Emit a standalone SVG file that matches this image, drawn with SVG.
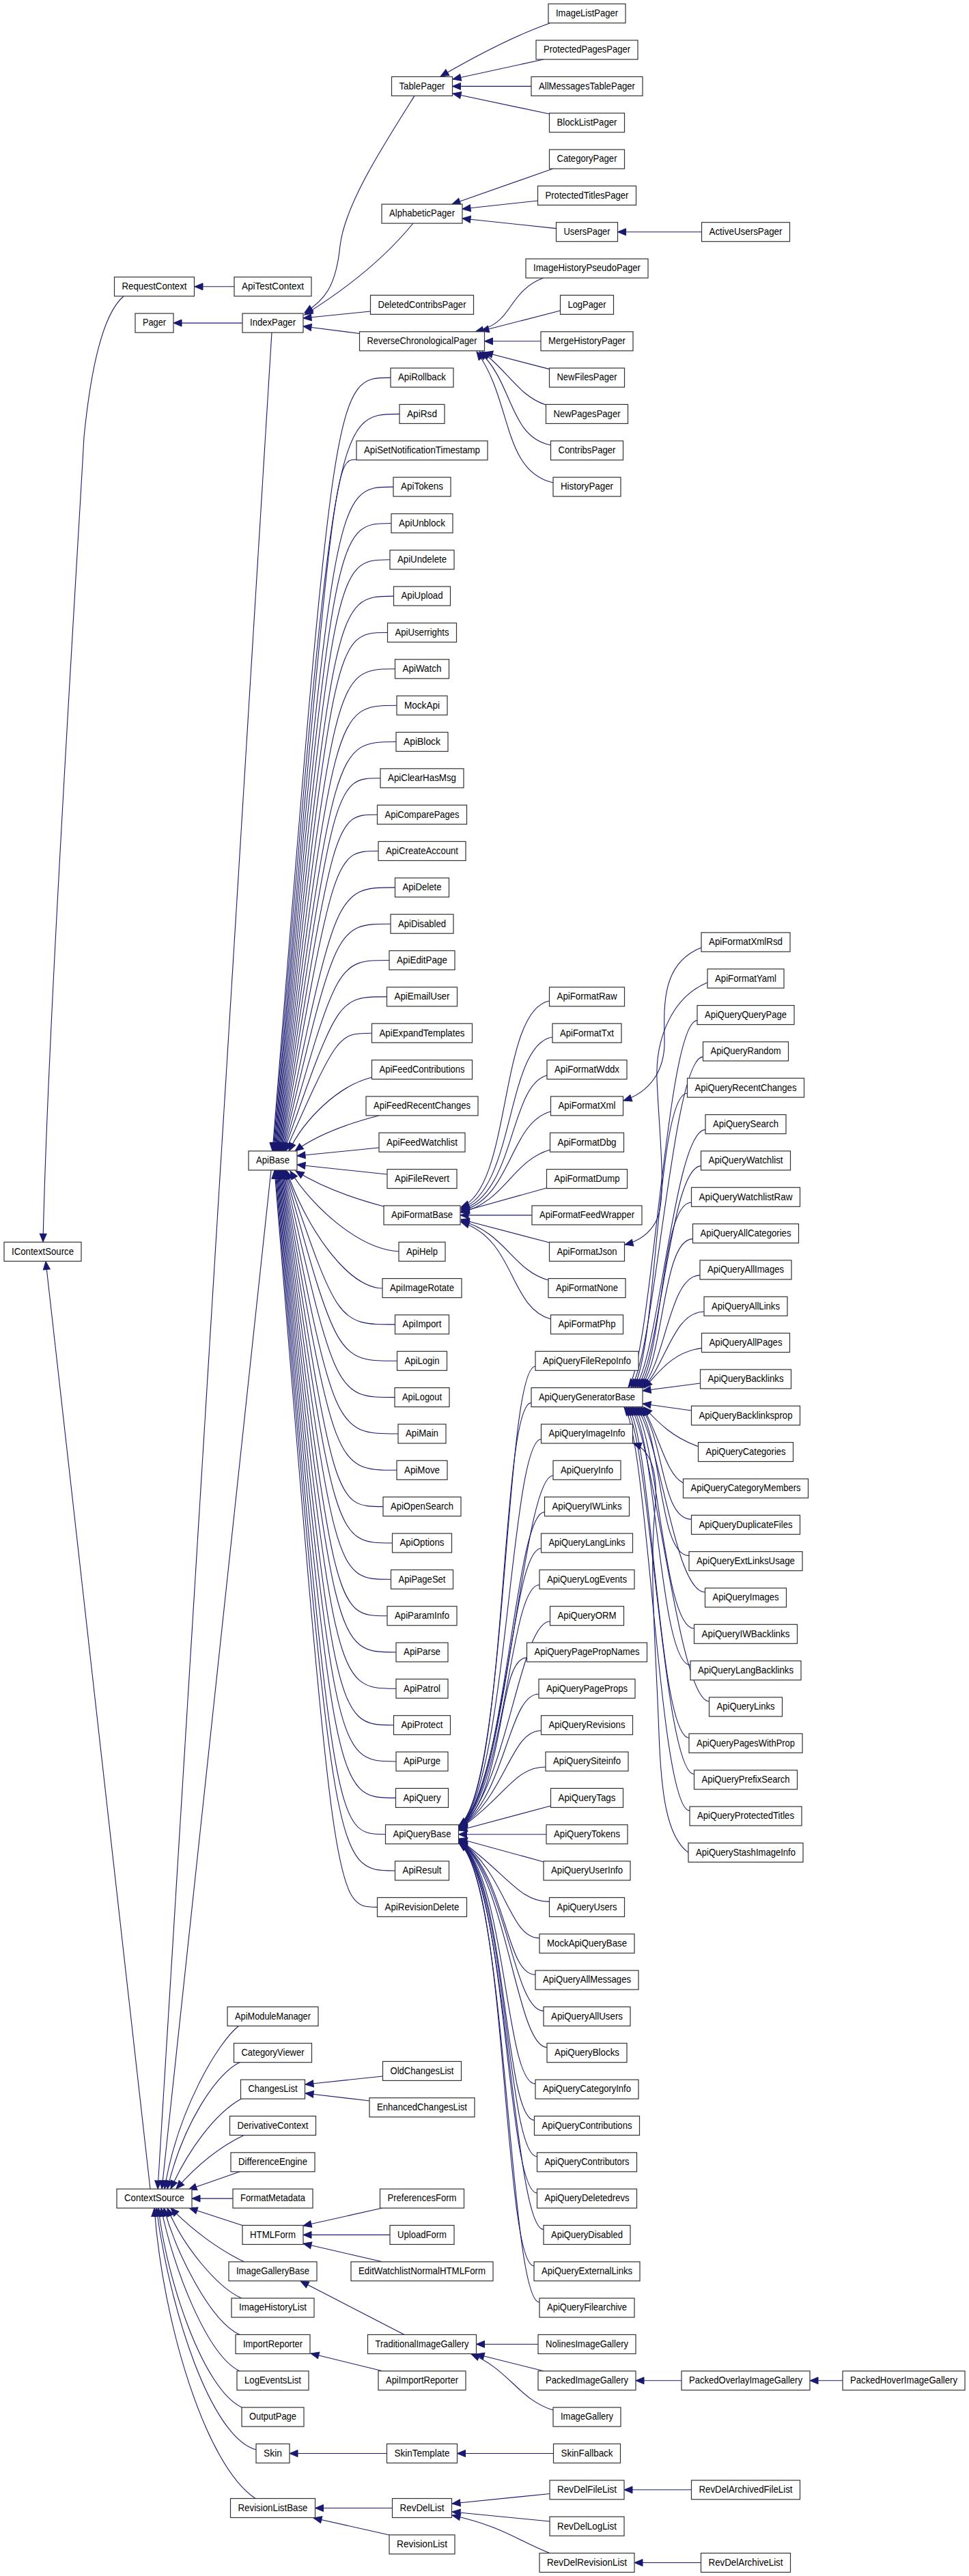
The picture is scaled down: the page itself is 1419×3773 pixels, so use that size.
<svg xmlns="http://www.w3.org/2000/svg" width="1419" height="3773" viewBox="0 0 1419 3773">
<style>
.n rect{fill:#fff;stroke:#333;stroke-width:1.2}
.n text{font-family:"Liberation Sans",Arial,Helvetica,sans-serif;font-size:14.5px;text-anchor:middle;fill:#000}
#edges path{fill:none;stroke:#191970;stroke-width:1.1;marker-end:url(#a)}
</style>
<defs>
<marker id="a" markerWidth="14" markerHeight="12" refX="12" refY="5" orient="auto" markerUnits="userSpaceOnUse" overflow="visible"><path d="M0,0 L12,5 L0,10 z" fill="#191970" stroke="#191970" stroke-width="1"/></marker>
</defs>
<rect width="1419" height="3773" fill="#fff"/>
<g id="edges">
<path d="M343,419.8 L285,419.8"/>
<path d="M355,473.1 L254,473.1"/>
<path d="M181,434 C150,460 133,540 123,640 C112,840 70,1500 63,1819"/>
<path d="M220,3206 L67,1847.5"/>
<path d="M398,487 L231,3206"/>
<path d="M397,1714 L237,3206"/>
<path d="M805,34 C760,50 700,80 645,112"/>
<path d="M796,87 L663,116"/>
<path d="M778,126.4 L662.5,126.4"/>
<path d="M805,167 L663,137"/>
<path d="M810,247 L662,299"/>
<path d="M787.5,294 L677,306"/>
<path d="M814.5,334.6 L677,320"/>
<path d="M1027.5,339.7 L904.5,339.7"/>
<path d="M607,140.4 C560,215 505,300 498,360 C492,420 475,440 446,458"/>
<path d="M605,327 C570,370 520,415 446,461"/>
<path d="M542.5,456 L444,466"/>
<path d="M526.5,488.5 L444,478"/>
<path d="M796,407.1 C760,420 750,450 735,465 C725,476 712,482 696,486"/>
<path d="M820.5,455 L704,485"/>
<path d="M792,499.8 L709.5,499.8"/>
<path d="M804.5,540.6 L709.5,516"/>
<path d="M799.5,593 C760,580 745,545 706,515"/>
<path d="M806.5,652 C745,640 752,560 702,515"/>
<path d="M810,707 C735,690 750,585 698,515"/>
<path d="M572,553.1 C490,553.1 490,553.1 399,1686"/>
<path d="M585,606.4 C490,606.4 490,606.4 400,1686"/>
<path d="M522,673 C490,673 490,673 401,1686"/>
<path d="M576,713.1 C490,713.1 490,713.1 402,1686"/>
<path d="M573,766.5 C490,766.5 490,766.5 403,1686"/>
<path d="M571,819.8 C490,819.8 490,819.8 404,1686"/>
<path d="M576.5,873.1 C490,873.1 490,873.1 405,1686"/>
<path d="M567.5,926.5 C490,926.5 490,926.5 406,1686"/>
<path d="M578.5,979.8 C490,979.8 490,979.8 407,1686"/>
<path d="M581,1033.2 C490,1033.2 490,1033.2 408,1686"/>
<path d="M580,1086.5 C490,1086.5 490,1086.5 409,1686"/>
<path d="M557,1139.8 C490,1139.8 490,1139.8 410,1686"/>
<path d="M552.5,1193.2 C490,1193.2 490,1193.2 411,1686"/>
<path d="M554,1246.5 C490,1246.5 490,1246.5 412,1686"/>
<path d="M578.5,1299.9 C492,1299.9 492,1299.9 413,1686"/>
<path d="M572,1353.2 C492,1353.2 492,1353.2 414,1686"/>
<path d="M570,1406.5 C494,1406.5 494,1406.5 415,1686"/>
<path d="M566.5,1459.9 C495,1459.9 495,1459.9 416,1686"/>
<path d="M544.5,1513.2 C495,1513.2 495,1513.2 418,1686"/>
<path d="M544.5,1578 C495,1590 445,1640 423,1686"/>
<path d="M555,1634 C500,1648 460,1665 432,1686"/>
<path d="M555,1681 L435,1693"/>
<path d="M567,1720 L435,1706"/>
<path d="M562,1767 C505,1752 465,1735 433,1715"/>
<path d="M584,1833 C525,1830 455,1765 425,1715"/>
<path d="M560,1887 C505,1885 445,1790 420,1715"/>
<path d="M578.5,1939.9 C495,1939.9 495,1939.9 418,1714"/>
<path d="M581.5,1993.3 C494,1993.3 494,1993.3 417,1714"/>
<path d="M578,2046.6 C492,2046.6 492,2046.6 416,1714"/>
<path d="M583,2100 C490,2100 490,2100 415,1714"/>
<path d="M581,2153.3 C490,2153.3 490,2153.3 414,1714"/>
<path d="M561,2206.6 C490,2206.6 490,2206.6 413,1714"/>
<path d="M574.5,2260 C490,2260 490,2260 412,1714"/>
<path d="M572.5,2313.3 C490,2313.3 490,2313.3 411,1714"/>
<path d="M567,2366.7 C490,2366.7 490,2366.7 410,1714"/>
<path d="M580,2420 C490,2420 490,2420 409,1714"/>
<path d="M580,2473.3 C490,2473.3 490,2473.3 408,1714"/>
<path d="M576.5,2526.7 C490,2526.7 490,2526.7 407,1714"/>
<path d="M580,2580 C490,2580 490,2580 406,1714"/>
<path d="M579.5,2633.4 C490,2633.4 490,2633.4 405,1714"/>
<path d="M564.5,2686.7 C490,2686.7 490,2686.7 404,1714"/>
<path d="M578.5,2740 C490,2740 490,2740 403,1714"/>
<path d="M552.5,2793.4 C490,2793.4 490,2793.4 402,1714"/>
<path d="M1027,1388 C970,1410 972,1470 973,1520 C975,1570 950,1600 913,1612"/>
<path d="M1036,1439 C985,1460 960,1520 962,1580 C965,1660 978,1760 960,1790 C950,1808 935,1818 915,1823"/>
<path d="M804.5,1466 C730,1480 750,1740 675,1768"/>
<path d="M809,1519 C740,1530 755,1745 675,1770"/>
<path d="M801,1575 C745,1590 755,1750 675,1772"/>
<path d="M806.5,1628 C745,1645 750,1755 675,1774"/>
<path d="M805.5,1684 C750,1700 740,1760 675,1776"/>
<path d="M800.5,1740 L675,1775"/>
<path d="M779,1779.9 L674,1779.9"/>
<path d="M804.5,1820 L675,1786"/>
<path d="M803,1875 C750,1860 740,1805 675,1788"/>
<path d="M806.5,1932 C745,1915 755,1815 675,1790"/>
<path d="M1021,1494.6 C976,1494.6 955,1987 920,2032"/>
<path d="M1029.5,1547.9 C984.5,1547.9 959,1987 924,2032"/>
<path d="M1006.5,1601.2 C961.5,1601.2 962,1987 927,2032"/>
<path d="M1033,1654.6 C988,1654.6 965,1987 930,2032"/>
<path d="M1026.5,1707.9 C981.5,1707.9 968,1987 933,2032"/>
<path d="M1012.5,1761.3 C967.5,1761.3 971,1987 936,2032"/>
<path d="M1014.5,1814.6 C969.5,1814.6 973,1990 938,2032"/>
<path d="M1025,1867.9 C980,1867.9 975,1995 940,2032"/>
<path d="M1031,1921.3 C986,1921.3 975,2000 942,2032"/>
<path d="M1027.5,1974.6 C985,1980 965,2010 943,2033"/>
<path d="M1025.5,2026 L941,2037"/>
<path d="M1012.5,2066 L941,2056"/>
<path d="M1022.5,2118.6 C985,2105 965,2085 943,2061"/>
<path d="M1000.5,2172 C975,2160 965,2100 941,2061"/>
<path d="M1012.5,2225.3 C967.5,2225.3 973,2106 938,2061"/>
<path d="M1009,2278.6 C964,2278.6 970,2106 935,2061"/>
<path d="M1032.5,2332 C987.5,2332 967,2106 932,2061"/>
<path d="M1016.5,2385.3 C971.5,2385.3 964,2106 929,2061"/>
<path d="M1011,2438.7 C966,2438.7 961,2106 926,2061"/>
<path d="M1038.5,2492 C993.5,2492 958,2106 923,2061"/>
<path d="M1009,2545.3 C964,2545.3 955,2106 920,2061"/>
<path d="M1016.5,2598.7 C971.5,2598.7 952,2106 917,2061"/>
<path d="M1010,2652 C965,2652 949,2106 914,2061"/>
<path d="M1008,2713.4 C975,2690 968,2620 965,2540 C960,2400 950,2300 960,2200 C963,2150 950,2122 927,2114"/>
<path d="M784,2001.3 C739,2001.3 742,2624 672,2674"/>
<path d="M778,2054.6 C733,2054.6 742,2624.5 672,2674.5"/>
<path d="M792.5,2108 C747.5,2108 742,2625 672,2675"/>
<path d="M810,2161.3 C765,2161.3 742,2625.5 672,2675.5"/>
<path d="M797.5,2214.6 C752.5,2214.6 742,2626 672,2676"/>
<path d="M792.5,2268 C747.5,2268 742,2626.5 672,2676.5"/>
<path d="M790,2321.3 C745,2321.3 742,2627 672,2677"/>
<path d="M805.5,2374.7 C760.5,2374.7 742,2627.5 672,2677.5"/>
<path d="M771.5,2428 C726.5,2428 742,2628 672,2678"/>
<path d="M789,2481.3 C744,2481.3 742,2628.5 672,2678.5"/>
<path d="M792.5,2534.7 C747.5,2534.7 742,2629 672,2679"/>
<path d="M799,2588 C754,2588 742,2629.5 672,2679.5"/>
<path d="M806.5,2645 L672,2681"/>
<path d="M800,2686.7 L671.5,2686.7"/>
<path d="M796,2727 L672,2693"/>
<path d="M804.5,2785.4 C759.5,2785.4 742,2744 672,2694"/>
<path d="M790,2838.7 C745,2838.7 742,2744.5 672,2694.5"/>
<path d="M784,2892.1 C739,2892.1 742,2745 672,2695"/>
<path d="M796,2945.4 C751,2945.4 742,2745.5 672,2695.5"/>
<path d="M801,2998.7 C756,2998.7 742,2746 672,2696"/>
<path d="M784,3052.1 C739,3052.1 742,2746.5 672,2696.5"/>
<path d="M782.5,3105.4 C737.5,3105.4 742,2747 672,2697"/>
<path d="M786.5,3158.8 C741.5,3158.8 742,2747.5 672,2697.5"/>
<path d="M786.5,3212.1 C741.5,3212.1 742,2748 672,2698"/>
<path d="M796,3265.4 C751,3265.4 742,2748.5 672,2698.5"/>
<path d="M782,3318.8 C737,3318.8 742,2749 672,2699"/>
<path d="M790,3372.1 C745,3372.1 742,2749.5 672,2699.5"/>
<path d="M350,2967 C320,2990 260,3090 241,3206"/>
<path d="M352.5,3020 C318,3035 268,3110 245,3206"/>
<path d="M353.5,3074 C315,3095 275,3150 250,3206"/>
<path d="M358,3127 C320,3145 285,3175 258,3206"/>
<path d="M353.5,3180 L276,3207"/>
<path d="M341,3220.1 L281,3220.1"/>
<path d="M355,3259.4 L277,3234"/>
<path d="M358,3313 C320,3295 280,3265 250,3234"/>
<path d="M353.5,3366 C318,3350 268,3290 245,3234"/>
<path d="M351,3419.5 C308,3400 258,3300 240,3234"/>
<path d="M351,3472.8 C303,3450 253,3320 236,3234"/>
<path d="M354,3526 C298,3500 244,3340 232,3234"/>
<path d="M375,3588 C308,3570 248,3380 229,3234"/>
<path d="M374,3659.5 C300,3610 238,3400 226,3234"/>
<path d="M560.5,3041 L447,3053"/>
<path d="M541,3077 L447,3066"/>
<path d="M560,3234 L444,3260"/>
<path d="M571,3273.4 L444,3273.4"/>
<path d="M560,3312.8 L444,3286"/>
<path d="M592,3419.5 L440,3341"/>
<path d="M788,3433.5 L697.5,3433.5"/>
<path d="M796,3472.8 L697,3448"/>
<path d="M810,3530 C760,3515 745,3470 690,3448"/>
<path d="M998,3486.8 L931,3486.8"/>
<path d="M1234,3486.8 L1186,3486.8"/>
<path d="M560,3472.8 L455,3447"/>
<path d="M566.5,3593.5 L424,3593.5"/>
<path d="M810.5,3593.5 L669.5,3593.5"/>
<path d="M574.5,3673.5 L461.5,3673.5"/>
<path d="M570.5,3713 L459,3688"/>
<path d="M805,3652.5 L662,3667"/>
<path d="M805,3693 L662,3679"/>
<path d="M805,3739.5 C760,3722 735,3700 662,3684"/>
<path d="M1012.5,3646.8 L914,3646.8"/>
<path d="M1026.5,3753.5 L929,3753.5"/>
</g>
<g id="nodes">
<g id="IContextSource" class="n"><rect x="6" y="1819.3" width="113" height="28"/><text x="62.5" y="1837.6" textLength="91" lengthAdjust="spacingAndGlyphs">IContextSource</text></g>
<g id="RequestContext" class="n"><rect x="167.5" y="405.8" width="117" height="28"/><text x="226" y="424.1" textLength="95" lengthAdjust="spacingAndGlyphs">RequestContext</text></g>
<g id="Pager" class="n"><rect x="198" y="459.1" width="56" height="28"/><text x="226" y="477.4" textLength="34" lengthAdjust="spacingAndGlyphs">Pager</text></g>
<g id="ContextSource" class="n"><rect x="171" y="3206.1" width="110" height="28"/><text x="226" y="3224.4" textLength="88" lengthAdjust="spacingAndGlyphs">ContextSource</text></g>
<g id="ApiTestContext" class="n"><rect x="343" y="405.8" width="113" height="28"/><text x="399.5" y="424.1" textLength="91" lengthAdjust="spacingAndGlyphs">ApiTestContext</text></g>
<g id="IndexPager" class="n"><rect x="355" y="459.1" width="89" height="28"/><text x="399.5" y="477.4" textLength="67" lengthAdjust="spacingAndGlyphs">IndexPager</text></g>
<g id="ApiBase" class="n"><rect x="364" y="1685.9" width="71" height="28"/><text x="399.5" y="1704.2" textLength="49" lengthAdjust="spacingAndGlyphs">ApiBase</text></g>
<g id="ApiModuleManager" class="n"><rect x="333" y="2939.4" width="133" height="28"/><text x="399.5" y="2957.7" textLength="111" lengthAdjust="spacingAndGlyphs">ApiModuleManager</text></g>
<g id="CategoryViewer" class="n"><rect x="342.5" y="2992.7" width="114" height="28"/><text x="399.5" y="3011" textLength="92" lengthAdjust="spacingAndGlyphs">CategoryViewer</text></g>
<g id="ChangesList" class="n"><rect x="352.5" y="3046.1" width="94" height="28"/><text x="399.5" y="3064.4" textLength="72" lengthAdjust="spacingAndGlyphs">ChangesList</text></g>
<g id="DerivativeContext" class="n"><rect x="336.5" y="3099.4" width="126" height="28"/><text x="399.5" y="3117.7" textLength="104" lengthAdjust="spacingAndGlyphs">DerivativeContext</text></g>
<g id="DifferenceEngine" class="n"><rect x="338" y="3152.8" width="123" height="28"/><text x="399.5" y="3171.1" textLength="101" lengthAdjust="spacingAndGlyphs">DifferenceEngine</text></g>
<g id="FormatMetadata" class="n"><rect x="341" y="3206.1" width="117" height="28"/><text x="399.5" y="3224.4" textLength="95" lengthAdjust="spacingAndGlyphs">FormatMetadata</text></g>
<g id="HTMLForm" class="n"><rect x="355" y="3259.4" width="89" height="28"/><text x="399.5" y="3277.7" textLength="67" lengthAdjust="spacingAndGlyphs">HTMLForm</text></g>
<g id="ImageGalleryBase" class="n"><rect x="335" y="3312.8" width="129" height="28"/><text x="399.5" y="3331.1" textLength="107" lengthAdjust="spacingAndGlyphs">ImageGalleryBase</text></g>
<g id="ImageHistoryList" class="n"><rect x="339" y="3366.1" width="121" height="28"/><text x="399.5" y="3384.4" textLength="99" lengthAdjust="spacingAndGlyphs">ImageHistoryList</text></g>
<g id="ImportReporter" class="n"><rect x="345" y="3419.5" width="109" height="28"/><text x="399.5" y="3437.8" textLength="87" lengthAdjust="spacingAndGlyphs">ImportReporter</text></g>
<g id="LogEventsList" class="n"><rect x="347" y="3472.8" width="105" height="28"/><text x="399.5" y="3491.1" textLength="83" lengthAdjust="spacingAndGlyphs">LogEventsList</text></g>
<g id="OutputPage" class="n"><rect x="354" y="3526.1" width="91" height="28"/><text x="399.5" y="3544.4" textLength="69" lengthAdjust="spacingAndGlyphs">OutputPage</text></g>
<g id="Skin" class="n"><rect x="375" y="3579.5" width="49" height="28"/><text x="399.5" y="3597.8" textLength="27" lengthAdjust="spacingAndGlyphs">Skin</text></g>
<g id="RevisionListBase" class="n"><rect x="337.5" y="3659.5" width="124" height="28"/><text x="399.5" y="3677.8" textLength="102" lengthAdjust="spacingAndGlyphs">RevisionListBase</text></g>
<g id="TablePager" class="n"><rect x="573.5" y="112.4" width="89" height="28"/><text x="618" y="130.7" textLength="67" lengthAdjust="spacingAndGlyphs">TablePager</text></g>
<g id="AlphabeticPager" class="n"><rect x="559" y="299.1" width="118" height="28"/><text x="618" y="317.4" textLength="96" lengthAdjust="spacingAndGlyphs">AlphabeticPager</text></g>
<g id="DeletedContribsPager" class="n"><rect x="542.5" y="432.4" width="151" height="28"/><text x="618" y="450.7" textLength="129" lengthAdjust="spacingAndGlyphs">DeletedContribsPager</text></g>
<g id="ReverseChronologicalPager" class="n"><rect x="526.5" y="485.8" width="183" height="28"/><text x="618" y="504.1" textLength="161" lengthAdjust="spacingAndGlyphs">ReverseChronologicalPager</text></g>
<g id="ApiRollback" class="n"><rect x="572" y="539.1" width="92" height="28"/><text x="618" y="557.4" textLength="70" lengthAdjust="spacingAndGlyphs">ApiRollback</text></g>
<g id="ApiRsd" class="n"><rect x="585" y="592.4" width="66" height="28"/><text x="618" y="610.7" textLength="44" lengthAdjust="spacingAndGlyphs">ApiRsd</text></g>
<g id="ApiSetNotificationTimestamp" class="n"><rect x="522" y="645.8" width="192" height="28"/><text x="618" y="664.1" textLength="170" lengthAdjust="spacingAndGlyphs">ApiSetNotificationTimestamp</text></g>
<g id="ApiTokens" class="n"><rect x="576" y="699.1" width="84" height="28"/><text x="618" y="717.4" textLength="62" lengthAdjust="spacingAndGlyphs">ApiTokens</text></g>
<g id="ApiUnblock" class="n"><rect x="573" y="752.5" width="90" height="28"/><text x="618" y="770.8" textLength="68" lengthAdjust="spacingAndGlyphs">ApiUnblock</text></g>
<g id="ApiUndelete" class="n"><rect x="571" y="805.8" width="94" height="28"/><text x="618" y="824.1" textLength="72" lengthAdjust="spacingAndGlyphs">ApiUndelete</text></g>
<g id="ApiUpload" class="n"><rect x="576.5" y="859.1" width="83" height="28"/><text x="618" y="877.4" textLength="61" lengthAdjust="spacingAndGlyphs">ApiUpload</text></g>
<g id="ApiUserrights" class="n"><rect x="567.5" y="912.5" width="101" height="28"/><text x="618" y="930.8" textLength="79" lengthAdjust="spacingAndGlyphs">ApiUserrights</text></g>
<g id="ApiWatch" class="n"><rect x="578.5" y="965.8" width="79" height="28"/><text x="618" y="984.1" textLength="57" lengthAdjust="spacingAndGlyphs">ApiWatch</text></g>
<g id="MockApi" class="n"><rect x="581" y="1019.2" width="74" height="28"/><text x="618" y="1037.5" textLength="52" lengthAdjust="spacingAndGlyphs">MockApi</text></g>
<g id="ApiBlock" class="n"><rect x="580" y="1072.5" width="76" height="28"/><text x="618" y="1090.8" textLength="54" lengthAdjust="spacingAndGlyphs">ApiBlock</text></g>
<g id="ApiClearHasMsg" class="n"><rect x="557" y="1125.8" width="122" height="28"/><text x="618" y="1144.1" textLength="100" lengthAdjust="spacingAndGlyphs">ApiClearHasMsg</text></g>
<g id="ApiComparePages" class="n"><rect x="552.5" y="1179.2" width="131" height="28"/><text x="618" y="1197.5" textLength="109" lengthAdjust="spacingAndGlyphs">ApiComparePages</text></g>
<g id="ApiCreateAccount" class="n"><rect x="554" y="1232.5" width="128" height="28"/><text x="618" y="1250.8" textLength="106" lengthAdjust="spacingAndGlyphs">ApiCreateAccount</text></g>
<g id="ApiDelete" class="n"><rect x="578.5" y="1285.9" width="79" height="28"/><text x="618" y="1304.2" textLength="57" lengthAdjust="spacingAndGlyphs">ApiDelete</text></g>
<g id="ApiDisabled" class="n"><rect x="572" y="1339.2" width="92" height="28"/><text x="618" y="1357.5" textLength="70" lengthAdjust="spacingAndGlyphs">ApiDisabled</text></g>
<g id="ApiEditPage" class="n"><rect x="570" y="1392.5" width="96" height="28"/><text x="618" y="1410.8" textLength="74" lengthAdjust="spacingAndGlyphs">ApiEditPage</text></g>
<g id="ApiEmailUser" class="n"><rect x="566.5" y="1445.9" width="103" height="28"/><text x="618" y="1464.2" textLength="81" lengthAdjust="spacingAndGlyphs">ApiEmailUser</text></g>
<g id="ApiExpandTemplates" class="n"><rect x="544.5" y="1499.2" width="147" height="28"/><text x="618" y="1517.5" textLength="125" lengthAdjust="spacingAndGlyphs">ApiExpandTemplates</text></g>
<g id="ApiFeedContributions" class="n"><rect x="544.5" y="1552.6" width="147" height="28"/><text x="618" y="1570.9" textLength="125" lengthAdjust="spacingAndGlyphs">ApiFeedContributions</text></g>
<g id="ApiFeedRecentChanges" class="n"><rect x="536" y="1605.9" width="164" height="28"/><text x="618" y="1624.2" textLength="142" lengthAdjust="spacingAndGlyphs">ApiFeedRecentChanges</text></g>
<g id="ApiFeedWatchlist" class="n"><rect x="555" y="1659.2" width="126" height="28"/><text x="618" y="1677.5" textLength="104" lengthAdjust="spacingAndGlyphs">ApiFeedWatchlist</text></g>
<g id="ApiFileRevert" class="n"><rect x="567" y="1712.6" width="102" height="28"/><text x="618" y="1730.9" textLength="80" lengthAdjust="spacingAndGlyphs">ApiFileRevert</text></g>
<g id="ApiFormatBase" class="n"><rect x="562" y="1765.9" width="112" height="28"/><text x="618" y="1784.2" textLength="90" lengthAdjust="spacingAndGlyphs">ApiFormatBase</text></g>
<g id="ApiHelp" class="n"><rect x="584" y="1819.3" width="68" height="28"/><text x="618" y="1837.6" textLength="46" lengthAdjust="spacingAndGlyphs">ApiHelp</text></g>
<g id="ApiImageRotate" class="n"><rect x="560" y="1872.6" width="116" height="28"/><text x="618" y="1890.9" textLength="94" lengthAdjust="spacingAndGlyphs">ApiImageRotate</text></g>
<g id="ApiImport" class="n"><rect x="578.5" y="1925.9" width="79" height="28"/><text x="618" y="1944.2" textLength="57" lengthAdjust="spacingAndGlyphs">ApiImport</text></g>
<g id="ApiLogin" class="n"><rect x="581.5" y="1979.3" width="73" height="28"/><text x="618" y="1997.6" textLength="51" lengthAdjust="spacingAndGlyphs">ApiLogin</text></g>
<g id="ApiLogout" class="n"><rect x="578" y="2032.6" width="80" height="28"/><text x="618" y="2050.9" textLength="58" lengthAdjust="spacingAndGlyphs">ApiLogout</text></g>
<g id="ApiMain" class="n"><rect x="583" y="2086" width="70" height="28"/><text x="618" y="2104.3" textLength="48" lengthAdjust="spacingAndGlyphs">ApiMain</text></g>
<g id="ApiMove" class="n"><rect x="581" y="2139.3" width="74" height="28"/><text x="618" y="2157.6" textLength="52" lengthAdjust="spacingAndGlyphs">ApiMove</text></g>
<g id="ApiOpenSearch" class="n"><rect x="561" y="2192.6" width="114" height="28"/><text x="618" y="2210.9" textLength="92" lengthAdjust="spacingAndGlyphs">ApiOpenSearch</text></g>
<g id="ApiOptions" class="n"><rect x="574.5" y="2246" width="87" height="28"/><text x="618" y="2264.3" textLength="65" lengthAdjust="spacingAndGlyphs">ApiOptions</text></g>
<g id="ApiPageSet" class="n"><rect x="572.5" y="2299.3" width="91" height="28"/><text x="618" y="2317.6" textLength="69" lengthAdjust="spacingAndGlyphs">ApiPageSet</text></g>
<g id="ApiParamInfo" class="n"><rect x="567" y="2352.7" width="102" height="28"/><text x="618" y="2371" textLength="80" lengthAdjust="spacingAndGlyphs">ApiParamInfo</text></g>
<g id="ApiParse" class="n"><rect x="580" y="2406" width="76" height="28"/><text x="618" y="2424.3" textLength="54" lengthAdjust="spacingAndGlyphs">ApiParse</text></g>
<g id="ApiPatrol" class="n"><rect x="580" y="2459.3" width="76" height="28"/><text x="618" y="2477.6" textLength="54" lengthAdjust="spacingAndGlyphs">ApiPatrol</text></g>
<g id="ApiProtect" class="n"><rect x="576.5" y="2512.7" width="83" height="28"/><text x="618" y="2531" textLength="61" lengthAdjust="spacingAndGlyphs">ApiProtect</text></g>
<g id="ApiPurge" class="n"><rect x="580" y="2566" width="76" height="28"/><text x="618" y="2584.3" textLength="54" lengthAdjust="spacingAndGlyphs">ApiPurge</text></g>
<g id="ApiQuery" class="n"><rect x="579.5" y="2619.4" width="77" height="28"/><text x="618" y="2637.7" textLength="55" lengthAdjust="spacingAndGlyphs">ApiQuery</text></g>
<g id="ApiQueryBase" class="n"><rect x="564.5" y="2672.7" width="107" height="28"/><text x="618" y="2691" textLength="85" lengthAdjust="spacingAndGlyphs">ApiQueryBase</text></g>
<g id="ApiResult" class="n"><rect x="578.5" y="2726" width="79" height="28"/><text x="618" y="2744.3" textLength="57" lengthAdjust="spacingAndGlyphs">ApiResult</text></g>
<g id="ApiRevisionDelete" class="n"><rect x="552.5" y="2779.4" width="131" height="28"/><text x="618" y="2797.7" textLength="109" lengthAdjust="spacingAndGlyphs">ApiRevisionDelete</text></g>
<g id="OldChangesList" class="n"><rect x="560.5" y="3019.4" width="115" height="28"/><text x="618" y="3037.7" textLength="93" lengthAdjust="spacingAndGlyphs">OldChangesList</text></g>
<g id="EnhancedChangesList" class="n"><rect x="541" y="3072.7" width="154" height="28"/><text x="618" y="3091" textLength="132" lengthAdjust="spacingAndGlyphs">EnhancedChangesList</text></g>
<g id="PreferencesForm" class="n"><rect x="556.5" y="3206.1" width="123" height="28"/><text x="618" y="3224.4" textLength="101" lengthAdjust="spacingAndGlyphs">PreferencesForm</text></g>
<g id="UploadForm" class="n"><rect x="571" y="3259.4" width="94" height="28"/><text x="618" y="3277.7" textLength="72" lengthAdjust="spacingAndGlyphs">UploadForm</text></g>
<g id="EditWatchlistNormalHTMLForm" class="n"><rect x="514" y="3312.8" width="208" height="28"/><text x="618" y="3331.1" textLength="186" lengthAdjust="spacingAndGlyphs">EditWatchlistNormalHTMLForm</text></g>
<g id="TraditionalImageGallery" class="n"><rect x="538.5" y="3419.5" width="159" height="28"/><text x="618" y="3437.8" textLength="137" lengthAdjust="spacingAndGlyphs">TraditionalImageGallery</text></g>
<g id="ApiImportReporter" class="n"><rect x="554" y="3472.8" width="128" height="28"/><text x="618" y="3491.1" textLength="106" lengthAdjust="spacingAndGlyphs">ApiImportReporter</text></g>
<g id="SkinTemplate" class="n"><rect x="566.5" y="3579.5" width="103" height="28"/><text x="618" y="3597.8" textLength="81" lengthAdjust="spacingAndGlyphs">SkinTemplate</text></g>
<g id="RevDelList" class="n"><rect x="574.5" y="3659.5" width="87" height="28"/><text x="618" y="3677.8" textLength="65" lengthAdjust="spacingAndGlyphs">RevDelList</text></g>
<g id="RevisionList" class="n"><rect x="570" y="3712.8" width="96" height="28"/><text x="618" y="3731.1" textLength="74" lengthAdjust="spacingAndGlyphs">RevisionList</text></g>
<g id="ImageListPager" class="n"><rect x="803" y="5.7" width="113" height="28"/><text x="859.5" y="24" textLength="91" lengthAdjust="spacingAndGlyphs">ImageListPager</text></g>
<g id="ProtectedPagesPager" class="n"><rect x="785" y="59" width="149" height="28"/><text x="859.5" y="77.3" textLength="127" lengthAdjust="spacingAndGlyphs">ProtectedPagesPager</text></g>
<g id="AllMessagesTablePager" class="n"><rect x="778" y="112.4" width="163" height="28"/><text x="859.5" y="130.7" textLength="141" lengthAdjust="spacingAndGlyphs">AllMessagesTablePager</text></g>
<g id="BlockListPager" class="n"><rect x="804.5" y="165.7" width="110" height="28"/><text x="859.5" y="184" textLength="88" lengthAdjust="spacingAndGlyphs">BlockListPager</text></g>
<g id="CategoryPager" class="n"><rect x="804.5" y="219.1" width="110" height="28"/><text x="859.5" y="237.4" textLength="88" lengthAdjust="spacingAndGlyphs">CategoryPager</text></g>
<g id="ProtectedTitlesPager" class="n"><rect x="787.5" y="272.4" width="144" height="28"/><text x="859.5" y="290.7" textLength="122" lengthAdjust="spacingAndGlyphs">ProtectedTitlesPager</text></g>
<g id="UsersPager" class="n"><rect x="814.5" y="325.7" width="90" height="28"/><text x="859.5" y="344" textLength="68" lengthAdjust="spacingAndGlyphs">UsersPager</text></g>
<g id="ImageHistoryPseudoPager" class="n"><rect x="770" y="379.1" width="179" height="28"/><text x="859.5" y="397.4" textLength="157" lengthAdjust="spacingAndGlyphs">ImageHistoryPseudoPager</text></g>
<g id="LogPager" class="n"><rect x="820.5" y="432.4" width="78" height="28"/><text x="859.5" y="450.7" textLength="56" lengthAdjust="spacingAndGlyphs">LogPager</text></g>
<g id="MergeHistoryPager" class="n"><rect x="792" y="485.8" width="135" height="28"/><text x="859.5" y="504.1" textLength="113" lengthAdjust="spacingAndGlyphs">MergeHistoryPager</text></g>
<g id="NewFilesPager" class="n"><rect x="804.5" y="539.1" width="110" height="28"/><text x="859.5" y="557.4" textLength="88" lengthAdjust="spacingAndGlyphs">NewFilesPager</text></g>
<g id="NewPagesPager" class="n"><rect x="799.5" y="592.4" width="120" height="28"/><text x="859.5" y="610.7" textLength="98" lengthAdjust="spacingAndGlyphs">NewPagesPager</text></g>
<g id="ContribsPager" class="n"><rect x="806.5" y="645.8" width="106" height="28"/><text x="859.5" y="664.1" textLength="84" lengthAdjust="spacingAndGlyphs">ContribsPager</text></g>
<g id="HistoryPager" class="n"><rect x="810" y="699.1" width="99" height="28"/><text x="859.5" y="717.4" textLength="77" lengthAdjust="spacingAndGlyphs">HistoryPager</text></g>
<g id="ApiFormatRaw" class="n"><rect x="804.5" y="1445.9" width="110" height="28"/><text x="859.5" y="1464.2" textLength="88" lengthAdjust="spacingAndGlyphs">ApiFormatRaw</text></g>
<g id="ApiFormatTxt" class="n"><rect x="809" y="1499.2" width="101" height="28"/><text x="859.5" y="1517.5" textLength="79" lengthAdjust="spacingAndGlyphs">ApiFormatTxt</text></g>
<g id="ApiFormatWddx" class="n"><rect x="801" y="1552.6" width="117" height="28"/><text x="859.5" y="1570.9" textLength="95" lengthAdjust="spacingAndGlyphs">ApiFormatWddx</text></g>
<g id="ApiFormatXml" class="n"><rect x="806.5" y="1605.9" width="106" height="28"/><text x="859.5" y="1624.2" textLength="84" lengthAdjust="spacingAndGlyphs">ApiFormatXml</text></g>
<g id="ApiFormatDbg" class="n"><rect x="805.5" y="1659.2" width="108" height="28"/><text x="859.5" y="1677.5" textLength="86" lengthAdjust="spacingAndGlyphs">ApiFormatDbg</text></g>
<g id="ApiFormatDump" class="n"><rect x="800.5" y="1712.6" width="118" height="28"/><text x="859.5" y="1730.9" textLength="96" lengthAdjust="spacingAndGlyphs">ApiFormatDump</text></g>
<g id="ApiFormatFeedWrapper" class="n"><rect x="779" y="1765.9" width="161" height="28"/><text x="859.5" y="1784.2" textLength="139" lengthAdjust="spacingAndGlyphs">ApiFormatFeedWrapper</text></g>
<g id="ApiFormatJson" class="n"><rect x="804.5" y="1819.3" width="110" height="28"/><text x="859.5" y="1837.6" textLength="88" lengthAdjust="spacingAndGlyphs">ApiFormatJson</text></g>
<g id="ApiFormatNone" class="n"><rect x="803" y="1872.6" width="113" height="28"/><text x="859.5" y="1890.9" textLength="91" lengthAdjust="spacingAndGlyphs">ApiFormatNone</text></g>
<g id="ApiFormatPhp" class="n"><rect x="806.5" y="1925.9" width="106" height="28"/><text x="859.5" y="1944.2" textLength="84" lengthAdjust="spacingAndGlyphs">ApiFormatPhp</text></g>
<g id="ApiQueryFileRepoInfo" class="n"><rect x="784" y="1979.3" width="151" height="28"/><text x="859.5" y="1997.6" textLength="129" lengthAdjust="spacingAndGlyphs">ApiQueryFileRepoInfo</text></g>
<g id="ApiQueryGeneratorBase" class="n"><rect x="778" y="2032.6" width="163" height="28"/><text x="859.5" y="2050.9" textLength="141" lengthAdjust="spacingAndGlyphs">ApiQueryGeneratorBase</text></g>
<g id="ApiQueryImageInfo" class="n"><rect x="792.5" y="2086" width="134" height="28"/><text x="859.5" y="2104.3" textLength="112" lengthAdjust="spacingAndGlyphs">ApiQueryImageInfo</text></g>
<g id="ApiQueryInfo" class="n"><rect x="810" y="2139.3" width="99" height="28"/><text x="859.5" y="2157.6" textLength="77" lengthAdjust="spacingAndGlyphs">ApiQueryInfo</text></g>
<g id="ApiQueryIWLinks" class="n"><rect x="797.5" y="2192.6" width="124" height="28"/><text x="859.5" y="2210.9" textLength="102" lengthAdjust="spacingAndGlyphs">ApiQueryIWLinks</text></g>
<g id="ApiQueryLangLinks" class="n"><rect x="792.5" y="2246" width="134" height="28"/><text x="859.5" y="2264.3" textLength="112" lengthAdjust="spacingAndGlyphs">ApiQueryLangLinks</text></g>
<g id="ApiQueryLogEvents" class="n"><rect x="790" y="2299.3" width="139" height="28"/><text x="859.5" y="2317.6" textLength="117" lengthAdjust="spacingAndGlyphs">ApiQueryLogEvents</text></g>
<g id="ApiQueryORM" class="n"><rect x="805.5" y="2352.7" width="108" height="28"/><text x="859.5" y="2371" textLength="86" lengthAdjust="spacingAndGlyphs">ApiQueryORM</text></g>
<g id="ApiQueryPagePropNames" class="n"><rect x="771.5" y="2406" width="176" height="28"/><text x="859.5" y="2424.3" textLength="154" lengthAdjust="spacingAndGlyphs">ApiQueryPagePropNames</text></g>
<g id="ApiQueryPageProps" class="n"><rect x="789" y="2459.3" width="141" height="28"/><text x="859.5" y="2477.6" textLength="119" lengthAdjust="spacingAndGlyphs">ApiQueryPageProps</text></g>
<g id="ApiQueryRevisions" class="n"><rect x="792.5" y="2512.7" width="134" height="28"/><text x="859.5" y="2531" textLength="112" lengthAdjust="spacingAndGlyphs">ApiQueryRevisions</text></g>
<g id="ApiQuerySiteinfo" class="n"><rect x="799" y="2566" width="121" height="28"/><text x="859.5" y="2584.3" textLength="99" lengthAdjust="spacingAndGlyphs">ApiQuerySiteinfo</text></g>
<g id="ApiQueryTags" class="n"><rect x="806.5" y="2619.4" width="106" height="28"/><text x="859.5" y="2637.7" textLength="84" lengthAdjust="spacingAndGlyphs">ApiQueryTags</text></g>
<g id="ApiQueryTokens" class="n"><rect x="800" y="2672.7" width="119" height="28"/><text x="859.5" y="2691" textLength="97" lengthAdjust="spacingAndGlyphs">ApiQueryTokens</text></g>
<g id="ApiQueryUserInfo" class="n"><rect x="796" y="2726" width="127" height="28"/><text x="859.5" y="2744.3" textLength="105" lengthAdjust="spacingAndGlyphs">ApiQueryUserInfo</text></g>
<g id="ApiQueryUsers" class="n"><rect x="804.5" y="2779.4" width="110" height="28"/><text x="859.5" y="2797.7" textLength="88" lengthAdjust="spacingAndGlyphs">ApiQueryUsers</text></g>
<g id="MockApiQueryBase" class="n"><rect x="790" y="2832.7" width="139" height="28"/><text x="859.5" y="2851" textLength="117" lengthAdjust="spacingAndGlyphs">MockApiQueryBase</text></g>
<g id="ApiQueryAllMessages" class="n"><rect x="784" y="2886.1" width="151" height="28"/><text x="859.5" y="2904.4" textLength="129" lengthAdjust="spacingAndGlyphs">ApiQueryAllMessages</text></g>
<g id="ApiQueryAllUsers" class="n"><rect x="796" y="2939.4" width="127" height="28"/><text x="859.5" y="2957.7" textLength="105" lengthAdjust="spacingAndGlyphs">ApiQueryAllUsers</text></g>
<g id="ApiQueryBlocks" class="n"><rect x="801" y="2992.7" width="117" height="28"/><text x="859.5" y="3011" textLength="95" lengthAdjust="spacingAndGlyphs">ApiQueryBlocks</text></g>
<g id="ApiQueryCategoryInfo" class="n"><rect x="784" y="3046.1" width="151" height="28"/><text x="859.5" y="3064.4" textLength="129" lengthAdjust="spacingAndGlyphs">ApiQueryCategoryInfo</text></g>
<g id="ApiQueryContributions" class="n"><rect x="782.5" y="3099.4" width="154" height="28"/><text x="859.5" y="3117.7" textLength="132" lengthAdjust="spacingAndGlyphs">ApiQueryContributions</text></g>
<g id="ApiQueryContributors" class="n"><rect x="786.5" y="3152.8" width="146" height="28"/><text x="859.5" y="3171.1" textLength="124" lengthAdjust="spacingAndGlyphs">ApiQueryContributors</text></g>
<g id="ApiQueryDeletedrevs" class="n"><rect x="786.5" y="3206.1" width="146" height="28"/><text x="859.5" y="3224.4" textLength="124" lengthAdjust="spacingAndGlyphs">ApiQueryDeletedrevs</text></g>
<g id="ApiQueryDisabled" class="n"><rect x="796" y="3259.4" width="127" height="28"/><text x="859.5" y="3277.7" textLength="105" lengthAdjust="spacingAndGlyphs">ApiQueryDisabled</text></g>
<g id="ApiQueryExternalLinks" class="n"><rect x="782" y="3312.8" width="155" height="28"/><text x="859.5" y="3331.1" textLength="133" lengthAdjust="spacingAndGlyphs">ApiQueryExternalLinks</text></g>
<g id="ApiQueryFilearchive" class="n"><rect x="790" y="3366.1" width="139" height="28"/><text x="859.5" y="3384.4" textLength="117" lengthAdjust="spacingAndGlyphs">ApiQueryFilearchive</text></g>
<g id="NolinesImageGallery" class="n"><rect x="788" y="3419.5" width="143" height="28"/><text x="859.5" y="3437.8" textLength="121" lengthAdjust="spacingAndGlyphs">NolinesImageGallery</text></g>
<g id="PackedImageGallery" class="n"><rect x="788" y="3472.8" width="143" height="28"/><text x="859.5" y="3491.1" textLength="121" lengthAdjust="spacingAndGlyphs">PackedImageGallery</text></g>
<g id="ImageGallery" class="n"><rect x="810" y="3526.1" width="99" height="28"/><text x="859.5" y="3544.4" textLength="77" lengthAdjust="spacingAndGlyphs">ImageGallery</text></g>
<g id="SkinFallback" class="n"><rect x="810.5" y="3579.5" width="98" height="28"/><text x="859.5" y="3597.8" textLength="76" lengthAdjust="spacingAndGlyphs">SkinFallback</text></g>
<g id="RevDelFileList" class="n"><rect x="805" y="3632.8" width="109" height="28"/><text x="859.5" y="3651.1" textLength="87" lengthAdjust="spacingAndGlyphs">RevDelFileList</text></g>
<g id="RevDelLogList" class="n"><rect x="805" y="3686.2" width="109" height="28"/><text x="859.5" y="3704.5" textLength="87" lengthAdjust="spacingAndGlyphs">RevDelLogList</text></g>
<g id="RevDelRevisionList" class="n"><rect x="790" y="3739.5" width="139" height="28"/><text x="859.5" y="3757.8" textLength="117" lengthAdjust="spacingAndGlyphs">RevDelRevisionList</text></g>
<g id="ActiveUsersPager" class="n"><rect x="1027.5" y="325.7" width="129" height="28"/><text x="1092" y="344" textLength="107" lengthAdjust="spacingAndGlyphs">ActiveUsersPager</text></g>
<g id="ApiFormatXmlRsd" class="n"><rect x="1027" y="1365.9" width="130" height="28"/><text x="1092" y="1384.2" textLength="108" lengthAdjust="spacingAndGlyphs">ApiFormatXmlRsd</text></g>
<g id="ApiFormatYaml" class="n"><rect x="1036" y="1419.2" width="112" height="28"/><text x="1092" y="1437.5" textLength="90" lengthAdjust="spacingAndGlyphs">ApiFormatYaml</text></g>
<g id="ApiQueryQueryPage" class="n"><rect x="1021" y="1472.6" width="142" height="28"/><text x="1092" y="1490.9" textLength="120" lengthAdjust="spacingAndGlyphs">ApiQueryQueryPage</text></g>
<g id="ApiQueryRandom" class="n"><rect x="1029.5" y="1525.9" width="125" height="28"/><text x="1092" y="1544.2" textLength="103" lengthAdjust="spacingAndGlyphs">ApiQueryRandom</text></g>
<g id="ApiQueryRecentChanges" class="n"><rect x="1006.5" y="1579.2" width="171" height="28"/><text x="1092" y="1597.5" textLength="149" lengthAdjust="spacingAndGlyphs">ApiQueryRecentChanges</text></g>
<g id="ApiQuerySearch" class="n"><rect x="1033" y="1632.6" width="118" height="28"/><text x="1092" y="1650.9" textLength="96" lengthAdjust="spacingAndGlyphs">ApiQuerySearch</text></g>
<g id="ApiQueryWatchlist" class="n"><rect x="1026.5" y="1685.9" width="131" height="28"/><text x="1092" y="1704.2" textLength="109" lengthAdjust="spacingAndGlyphs">ApiQueryWatchlist</text></g>
<g id="ApiQueryWatchlistRaw" class="n"><rect x="1012.5" y="1739.3" width="159" height="28"/><text x="1092" y="1757.6" textLength="137" lengthAdjust="spacingAndGlyphs">ApiQueryWatchlistRaw</text></g>
<g id="ApiQueryAllCategories" class="n"><rect x="1014.5" y="1792.6" width="155" height="28"/><text x="1092" y="1810.9" textLength="133" lengthAdjust="spacingAndGlyphs">ApiQueryAllCategories</text></g>
<g id="ApiQueryAllImages" class="n"><rect x="1025" y="1845.9" width="134" height="28"/><text x="1092" y="1864.2" textLength="112" lengthAdjust="spacingAndGlyphs">ApiQueryAllImages</text></g>
<g id="ApiQueryAllLinks" class="n"><rect x="1031" y="1899.3" width="122" height="28"/><text x="1092" y="1917.6" textLength="100" lengthAdjust="spacingAndGlyphs">ApiQueryAllLinks</text></g>
<g id="ApiQueryAllPages" class="n"><rect x="1027.5" y="1952.6" width="129" height="28"/><text x="1092" y="1970.9" textLength="107" lengthAdjust="spacingAndGlyphs">ApiQueryAllPages</text></g>
<g id="ApiQueryBacklinks" class="n"><rect x="1025.5" y="2005.9" width="133" height="28"/><text x="1092" y="2024.2" textLength="111" lengthAdjust="spacingAndGlyphs">ApiQueryBacklinks</text></g>
<g id="ApiQueryBacklinksprop" class="n"><rect x="1012.5" y="2059.3" width="159" height="28"/><text x="1092" y="2077.6" textLength="137" lengthAdjust="spacingAndGlyphs">ApiQueryBacklinksprop</text></g>
<g id="ApiQueryCategories" class="n"><rect x="1022.5" y="2112.6" width="139" height="28"/><text x="1092" y="2130.9" textLength="117" lengthAdjust="spacingAndGlyphs">ApiQueryCategories</text></g>
<g id="ApiQueryCategoryMembers" class="n"><rect x="1000.5" y="2166" width="183" height="28"/><text x="1092" y="2184.3" textLength="161" lengthAdjust="spacingAndGlyphs">ApiQueryCategoryMembers</text></g>
<g id="ApiQueryDuplicateFiles" class="n"><rect x="1012.5" y="2219.3" width="159" height="28"/><text x="1092" y="2237.6" textLength="137" lengthAdjust="spacingAndGlyphs">ApiQueryDuplicateFiles</text></g>
<g id="ApiQueryExtLinksUsage" class="n"><rect x="1009" y="2272.6" width="166" height="28"/><text x="1092" y="2290.9" textLength="144" lengthAdjust="spacingAndGlyphs">ApiQueryExtLinksUsage</text></g>
<g id="ApiQueryImages" class="n"><rect x="1032.5" y="2326" width="119" height="28"/><text x="1092" y="2344.3" textLength="97" lengthAdjust="spacingAndGlyphs">ApiQueryImages</text></g>
<g id="ApiQueryIWBacklinks" class="n"><rect x="1016.5" y="2379.3" width="151" height="28"/><text x="1092" y="2397.6" textLength="129" lengthAdjust="spacingAndGlyphs">ApiQueryIWBacklinks</text></g>
<g id="ApiQueryLangBacklinks" class="n"><rect x="1011" y="2432.7" width="162" height="28"/><text x="1092" y="2451" textLength="140" lengthAdjust="spacingAndGlyphs">ApiQueryLangBacklinks</text></g>
<g id="ApiQueryLinks" class="n"><rect x="1038.5" y="2486" width="107" height="28"/><text x="1092" y="2504.3" textLength="85" lengthAdjust="spacingAndGlyphs">ApiQueryLinks</text></g>
<g id="ApiQueryPagesWithProp" class="n"><rect x="1009" y="2539.3" width="166" height="28"/><text x="1092" y="2557.6" textLength="144" lengthAdjust="spacingAndGlyphs">ApiQueryPagesWithProp</text></g>
<g id="ApiQueryPrefixSearch" class="n"><rect x="1016.5" y="2592.7" width="151" height="28"/><text x="1092" y="2611" textLength="129" lengthAdjust="spacingAndGlyphs">ApiQueryPrefixSearch</text></g>
<g id="ApiQueryProtectedTitles" class="n"><rect x="1010" y="2646" width="164" height="28"/><text x="1092" y="2664.3" textLength="142" lengthAdjust="spacingAndGlyphs">ApiQueryProtectedTitles</text></g>
<g id="ApiQueryStashImageInfo" class="n"><rect x="1008" y="2699.4" width="168" height="28"/><text x="1092" y="2717.7" textLength="146" lengthAdjust="spacingAndGlyphs">ApiQueryStashImageInfo</text></g>
<g id="PackedOverlayImageGallery" class="n"><rect x="998" y="3472.8" width="188" height="28"/><text x="1092" y="3491.1" textLength="166" lengthAdjust="spacingAndGlyphs">PackedOverlayImageGallery</text></g>
<g id="RevDelArchivedFileList" class="n"><rect x="1012.5" y="3632.8" width="159" height="28"/><text x="1092" y="3651.1" textLength="137" lengthAdjust="spacingAndGlyphs">RevDelArchivedFileList</text></g>
<g id="RevDelArchiveList" class="n"><rect x="1026.5" y="3739.5" width="131" height="28"/><text x="1092" y="3757.8" textLength="109" lengthAdjust="spacingAndGlyphs">RevDelArchiveList</text></g>
<g id="PackedHoverImageGallery" class="n"><rect x="1234" y="3472.8" width="179" height="28"/><text x="1323.5" y="3491.1" textLength="157" lengthAdjust="spacingAndGlyphs">PackedHoverImageGallery</text></g>
</g>
</svg>
